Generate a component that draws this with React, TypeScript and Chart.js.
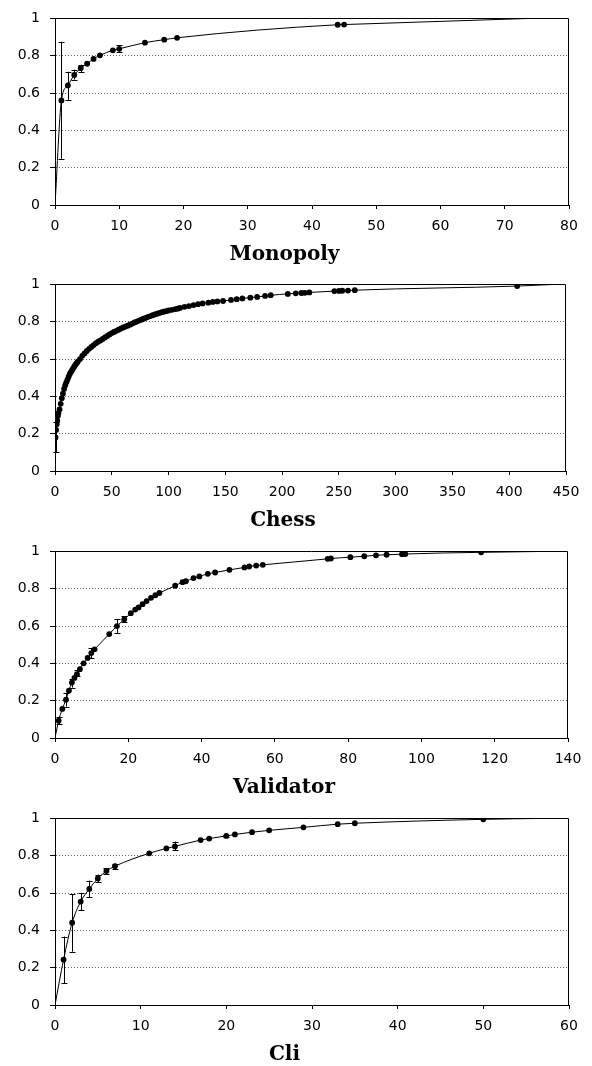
import React, { useEffect, useRef } from 'react';
import { Chart, registerables } from 'chart.js';

Chart.register(...registerables);

const yTickLabels = ['0', '0.2', '0.4', '0.6', '0.8', '1'];
const panelTitles = ['Monopoly', 'Chess', 'Validator', 'Cli'];
const xMaxes = [80, 450, 140, 60];
const xSteps = [10, 50, 20, 10];

const monopolyX = [0, 1, 2, 3, 4, 5, 6, 7, 9, 10, 14, 17, 19, 44, 45, 74];
const monopolyY = [0, 0.56, 0.641, 0.697, 0.733, 0.757, 0.783, 0.802, 0.829, 0.837, 0.87, 0.886, 0.896, 0.966, 0.967, 1];
const monopolyErrX = [1, 2, 3, 4, 10];
const monopolyErrLow = [0.248, 0.564, 0.672, 0.712, 0.82];
const monopolyErrHigh = [0.875, 0.714, 0.726, 0.752, 0.855];

const chessX = [0, 0.5, 1, 1.5, 2, 2.5, 3, 4, 5, 6, 7, 8, 9, 10, 11, 12, 13, 14, 15, 16, 17, 18, 19, 20,
  22, 24, 26, 28, 30, 32, 34, 36, 38, 40, 42, 44, 46, 48, 50, 52, 54, 56, 58, 60, 62, 64, 66, 68, 70, 72, 74, 76, 78, 80,
  82, 84, 86, 88, 90, 92, 94, 96, 98, 100, 103, 106, 108, 110, 114, 118, 122, 126, 130, 135, 139, 143, 148, 155, 160, 165,
  172, 178, 185, 190, 205, 212, 217, 220, 224, 246, 250, 253, 258, 264, 407, 440];
const chessY = [0, 0.18, 0.22, 0.25, 0.27, 0.295, 0.31, 0.33, 0.36, 0.39, 0.415, 0.44, 0.46, 0.475, 0.49, 0.505, 0.52, 0.53, 0.54, 0.55, 0.56, 0.57, 0.578, 0.586,
  0.6, 0.617, 0.63, 0.643, 0.655, 0.665, 0.675, 0.685, 0.693, 0.7, 0.708, 0.716, 0.724, 0.732, 0.739, 0.745, 0.751, 0.757, 0.763, 0.769, 0.774, 0.779, 0.784, 0.79, 0.796, 0.801, 0.806, 0.811, 0.816, 0.821,
  0.826, 0.83, 0.835, 0.839, 0.843, 0.847, 0.851, 0.854, 0.857, 0.86, 0.864, 0.868, 0.87, 0.874, 0.88, 0.884, 0.889, 0.894, 0.898, 0.902, 0.906, 0.909, 0.911, 0.917, 0.921, 0.925,
  0.929, 0.933, 0.938, 0.942, 0.949, 0.952, 0.954, 0.955, 0.957, 0.964, 0.965, 0.966, 0.967, 0.969, 0.991, 1];
const chessErrX = [0.5];
const chessErrLow = [0.1];
const chessErrHigh = [0.26];

const validatorX = [0, 1, 2, 3, 3.8, 4.6, 5.3, 6, 6.8, 7.8, 8.9, 9.9, 10.8, 14.8, 16.9, 18.9, 20.7, 21.9, 22.8, 23.9, 25, 26.2, 27.4, 28.5,
  32.8, 34.8, 35.7, 37.8, 39.4, 41.7, 43.7, 47.6, 51.7, 53, 54.9, 56.7, 74.4, 75.3, 80.6, 84.4, 87.6, 90.5, 94.7, 95.6, 116.3, 134];
const validatorY = [0, 0.093, 0.156, 0.205, 0.254, 0.297, 0.322, 0.342, 0.369, 0.4, 0.429, 0.455, 0.475, 0.557, 0.6, 0.636, 0.669, 0.688, 0.7, 0.717, 0.734, 0.751, 0.765, 0.777,
  0.816, 0.835, 0.84, 0.857, 0.866, 0.88, 0.887, 0.901, 0.914, 0.919, 0.924, 0.928, 0.96, 0.962, 0.969, 0.974, 0.979, 0.982, 0.985, 0.986, 0.995, 1];
const validatorErrX = [1, 3, 4.6, 6, 9.9, 16.9, 18.9];
const validatorErrLow = [0.075, 0.168, 0.27, 0.33, 0.428, 0.563, 0.622];
const validatorErrHigh = [0.115, 0.242, 0.314, 0.365, 0.482, 0.637, 0.653];

const cliX = [0, 1, 2, 3, 4, 5, 6, 7, 11, 13, 14, 17, 18, 20, 21, 23, 25, 29, 33, 35, 50, 57];
const cliY = [0, 0.243, 0.441, 0.554, 0.622, 0.678, 0.718, 0.744, 0.813, 0.839, 0.85, 0.884, 0.892, 0.906, 0.914, 0.926, 0.936, 0.952, 0.969, 0.974, 0.995, 1];
const cliErrX = [1, 2, 3, 4, 5, 6, 7, 14, 20];
const cliErrLow = [0.116, 0.286, 0.508, 0.578, 0.658, 0.703, 0.73, 0.829, 0.9];
const cliErrHigh = [0.367, 0.595, 0.601, 0.667, 0.699, 0.733, 0.758, 0.876, 0.912];

const panelXs = [monopolyX, chessX, validatorX, cliX];
const panelYs = [monopolyY, chessY, validatorY, cliY];
const panelErrX = [monopolyErrX, chessErrX, validatorErrX, cliErrX];
const panelErrLow = [monopolyErrLow, chessErrLow, validatorErrLow, cliErrLow];
const panelErrHigh = [monopolyErrHigh, chessErrHigh, validatorErrHigh, cliErrHigh];

const panelTops = [0, 266, 533, 800];
const panelRightPad = [23, 26, 24, 23];

const errorBarsPlugin = {
  id: 'errorBars',
  beforeDatasetsDraw(chart: any, _args: any, opts: any) {
    const { ctx, scales } = chart;
    const xs: number[] = opts.xs || [];
    const lo: number[] = opts.lo || [];
    const hi: number[] = opts.hi || [];
    ctx.save();
    ctx.strokeStyle = '#000';
    ctx.lineWidth = 1;
    for (let i = 0; i < xs.length; i++) {
      const px = Math.round(scales.x.getPixelForValue(xs[i])) + 0.5;
      const y1 = scales.y.getPixelForValue(lo[i]);
      const y2 = scales.y.getPixelForValue(hi[i]);
      ctx.beginPath();
      ctx.moveTo(px, y1);
      ctx.lineTo(px, y2);
      ctx.moveTo(px - 3, Math.round(y1) + 0.5);
      ctx.lineTo(px + 3, Math.round(y1) + 0.5);
      ctx.moveTo(px - 3, Math.round(y2) + 0.5);
      ctx.lineTo(px + 3, Math.round(y2) + 0.5);
      ctx.stroke();
    }
    ctx.restore();
  },
};

const framePlugin = {
  id: 'frame',
  afterDatasetsDraw(chart: any) {
    const { ctx, chartArea } = chart;
    ctx.save();
    ctx.strokeStyle = '#000';
    ctx.lineWidth = 1;
    ctx.beginPath();
    const t = Math.round(chartArea.top) + 0.5;
    const r = Math.round(chartArea.right) - 0.5;
    ctx.moveTo(chartArea.left, t);
    ctx.lineTo(r, t);
    ctx.lineTo(r, chartArea.bottom);
    ctx.stroke();
    ctx.restore();
  },
};

function Panel({ idx }: { idx: number }) {
  const ref = useRef<HTMLCanvasElement>(null);
  useEffect(() => {
    const xs = panelXs[idx];
    const ys = panelYs[idx];
    const n = xs.length;
    const chart = new Chart(ref.current as HTMLCanvasElement, {
      type: 'line',
      data: {
        datasets: [
          {
            data: xs.map((x, i) => ({ x, y: ys[i] })),
            borderColor: '#000',
            borderWidth: 1,
            backgroundColor: '#000',
            pointBackgroundColor: '#000',
            pointBorderColor: '#000',
            pointBorderWidth: 0,
            pointRadius: (c: any) => (c.dataIndex === 0 || c.dataIndex === n - 1 ? 0 : 2.9),
            cubicInterpolationMode: 'monotone',
            fill: false,
          } as any,
        ],
      },
      options: {
        responsive: false,
        animation: false,
        events: [],
        layout: { padding: { top: 10, right: panelRightPad[idx], bottom: 0, left: 0 } },
        plugins: {
          legend: { display: false },
          tooltip: { enabled: false },
          title: {
            display: true,
            text: panelTitles[idx],
            position: 'bottom',
            color: '#000',
            font: { family: '"DejaVu Serif", serif', size: 20, weight: 'bold', lineHeight: 1.1 },
            padding: { top: 11, bottom: 0 },
          },
          errorBars: { xs: panelErrX[idx], lo: panelErrLow[idx], hi: panelErrHigh[idx] },
        } as any,
        scales: {
          x: {
            type: 'linear',
            min: 0,
            max: xMaxes[idx],
            ticks: {
              stepSize: xSteps[idx],
              color: '#000',
              padding: 9,
              maxRotation: 0,
              font: { family: '"DejaVu Sans", sans-serif', size: 14 },
              callback: (v: any) => String(v),
            },
            grid: { drawOnChartArea: false, tickLength: 4, tickColor: '#000', color: '#000' },
            border: { color: '#000', width: 1 },
            afterFit: (s: any) => { s.height = 28; },
          },
          y: {
            type: 'linear',
            min: 0,
            max: 1,
            ticks: {
              stepSize: 0.2,
              color: '#000',
              padding: 10,
              font: { family: '"DejaVu Sans", sans-serif', size: 14 },
              callback: (_v: any, i: number) => yTickLabels[i],
            },
            grid: {
              color: (c: any) => (c.index === 0 || c.index === 5 ? 'rgba(0,0,0,0)' : '#666'),
              tickColor: '#000',
              tickLength: 5,
              lineWidth: 1,
            },
            border: { color: '#000', width: 1, dash: [1, 2] },
            afterFit: (s: any) => { s.width = 55; },
          },
        },
      } as any,
      plugins: [errorBarsPlugin, framePlugin],
    });
    return () => chart.destroy();
  }, [idx]);
  return (
    <div style={{ position: 'absolute', left: 0, top: panelTops[idx], width: 592, height: 266 }}>
      <canvas ref={ref} width={592} height={266} style={{ display: 'block' }} />
    </div>
  );
}

export default function App() {
  return (
    <div style={{ position: 'absolute', left: 0, top: 0, width: 592, height: 1066, background: '#fff' }}>
      {[0, 1, 2, 3].map((i) => (
        <Panel key={i} idx={i} />
      ))}
    </div>
  );
}
